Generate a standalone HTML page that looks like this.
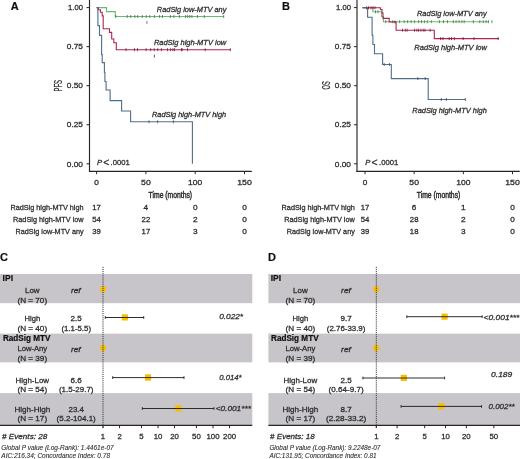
<!DOCTYPE html>
<html><head><meta charset="utf-8"><style>
html,body{margin:0;padding:0;background:#fff;width:520px;height:459px;overflow:hidden}
svg{display:block;will-change:transform}
text{font-family:"Liberation Sans",sans-serif}
</style></head><body>
<svg width="520" height="459" viewBox="0 0 520 459">
<text x="10.80" y="10.10" font-size="11" text-anchor="start" font-weight="bold" font-style="normal" fill="#111" stroke="#111" stroke-width="0.2">A</text>
<line x1="89.50" y1="0.00" x2="89.50" y2="171.90" stroke="#262626" stroke-width="1.15"/>
<line x1="88.95" y1="171.35" x2="251.80" y2="171.35" stroke="#262626" stroke-width="1.15"/>
<line x1="86.50" y1="7.60" x2="89.50" y2="7.60" stroke="#262626" stroke-width="1"/>
<text x="83.00" y="10.30" font-size="7.5" text-anchor="end" font-weight="normal" font-style="normal" fill="#2e2e2e" stroke="#2e2e2e" stroke-width="0.28" textLength="14.90" lengthAdjust="spacingAndGlyphs">1.00</text>
<line x1="86.50" y1="46.65" x2="89.50" y2="46.65" stroke="#262626" stroke-width="1"/>
<text x="83.00" y="49.35" font-size="7.5" text-anchor="end" font-weight="normal" font-style="normal" fill="#2e2e2e" stroke="#2e2e2e" stroke-width="0.28" textLength="16.20" lengthAdjust="spacingAndGlyphs">0.75</text>
<line x1="86.50" y1="85.70" x2="89.50" y2="85.70" stroke="#262626" stroke-width="1"/>
<text x="83.00" y="88.40" font-size="7.5" text-anchor="end" font-weight="normal" font-style="normal" fill="#2e2e2e" stroke="#2e2e2e" stroke-width="0.28" textLength="16.20" lengthAdjust="spacingAndGlyphs">0.50</text>
<line x1="86.50" y1="124.75" x2="89.50" y2="124.75" stroke="#262626" stroke-width="1"/>
<text x="83.00" y="127.45" font-size="7.5" text-anchor="end" font-weight="normal" font-style="normal" fill="#2e2e2e" stroke="#2e2e2e" stroke-width="0.28" textLength="16.20" lengthAdjust="spacingAndGlyphs">0.25</text>
<line x1="86.50" y1="163.80" x2="89.50" y2="163.80" stroke="#262626" stroke-width="1"/>
<text x="83.00" y="166.50" font-size="7.5" text-anchor="end" font-weight="normal" font-style="normal" fill="#2e2e2e" stroke="#2e2e2e" stroke-width="0.28" textLength="16.20" lengthAdjust="spacingAndGlyphs">0.00</text>
<text x="0" y="0" font-size="10.4" text-anchor="middle" fill="#2e2e2e" stroke="#2e2e2e" stroke-width="0.3" transform="translate(61.75,85.80) rotate(-90)" textLength="11.6" lengthAdjust="spacingAndGlyphs">PFS</text>
<line x1="96.60" y1="171.35" x2="96.60" y2="174.20" stroke="#262626" stroke-width="1"/>
<text x="96.60" y="184.70" font-size="7.5" text-anchor="middle" font-weight="normal" font-style="normal" fill="#2e2e2e" stroke="#2e2e2e" stroke-width="0.28" textLength="4.60" lengthAdjust="spacingAndGlyphs">0</text>
<line x1="145.90" y1="171.35" x2="145.90" y2="174.20" stroke="#262626" stroke-width="1"/>
<text x="145.90" y="184.70" font-size="7.5" text-anchor="middle" font-weight="normal" font-style="normal" fill="#2e2e2e" stroke="#2e2e2e" stroke-width="0.28" textLength="9.60" lengthAdjust="spacingAndGlyphs">50</text>
<line x1="195.20" y1="171.35" x2="195.20" y2="174.20" stroke="#262626" stroke-width="1"/>
<text x="195.20" y="184.70" font-size="7.5" text-anchor="middle" font-weight="normal" font-style="normal" fill="#2e2e2e" stroke="#2e2e2e" stroke-width="0.28" textLength="14.20" lengthAdjust="spacingAndGlyphs">100</text>
<line x1="244.50" y1="171.35" x2="244.50" y2="174.20" stroke="#262626" stroke-width="1"/>
<text x="244.50" y="184.70" font-size="7.5" text-anchor="middle" font-weight="normal" font-style="normal" fill="#2e2e2e" stroke="#2e2e2e" stroke-width="0.28" textLength="14.60" lengthAdjust="spacingAndGlyphs">150</text>
<text x="170.35" y="198.00" font-size="9" text-anchor="middle" font-weight="normal" font-style="normal" fill="#2a2a2a" stroke="#2a2a2a" stroke-width="0.45" textLength="43.50" lengthAdjust="spacingAndGlyphs">Time (months)</text>
<text x="96.90" y="164.70" font-size="7.7" text-anchor="start" font-weight="normal" font-style="italic" fill="#2e2e2e" stroke="#2e2e2e" stroke-width="0.28">P</text>
<text x="103.20" y="165.70" font-size="10.5" text-anchor="start" font-weight="normal" font-style="normal" fill="#2e2e2e" stroke="#2e2e2e" stroke-width="0.2">&lt;</text>
<text x="110.60" y="164.70" font-size="7.7" text-anchor="start" font-weight="normal" font-style="normal" fill="#2e2e2e" stroke="#2e2e2e" stroke-width="0.28" textLength="19.30" lengthAdjust="spacingAndGlyphs">.0001</text>
<path d="M96.70,7.60 L106.50,7.60 L106.50,11.60 L115.30,11.60 L115.30,16.50 L223.80,16.50" fill="none" stroke="#6cb872" stroke-width="1.1" stroke-linejoin="miter"/>
<line x1="115.80" y1="15.00" x2="115.80" y2="18.00" stroke="#3f7a46" stroke-width="0.8"/>
<line x1="127.30" y1="15.00" x2="127.30" y2="18.00" stroke="#3f7a46" stroke-width="0.8"/>
<line x1="130.80" y1="15.00" x2="130.80" y2="18.00" stroke="#3f7a46" stroke-width="0.8"/>
<line x1="134.80" y1="15.00" x2="134.80" y2="18.00" stroke="#3f7a46" stroke-width="0.8"/>
<line x1="137.70" y1="15.00" x2="137.70" y2="18.00" stroke="#3f7a46" stroke-width="0.8"/>
<line x1="142.30" y1="15.00" x2="142.30" y2="18.00" stroke="#3f7a46" stroke-width="0.8"/>
<line x1="146.30" y1="15.00" x2="146.30" y2="18.00" stroke="#3f7a46" stroke-width="0.8"/>
<line x1="149.80" y1="15.00" x2="149.80" y2="18.00" stroke="#3f7a46" stroke-width="0.8"/>
<line x1="154.40" y1="15.00" x2="154.40" y2="18.00" stroke="#3f7a46" stroke-width="0.8"/>
<line x1="159.60" y1="15.00" x2="159.60" y2="18.00" stroke="#3f7a46" stroke-width="0.8"/>
<line x1="162.50" y1="15.00" x2="162.50" y2="18.00" stroke="#3f7a46" stroke-width="0.8"/>
<line x1="170.40" y1="15.00" x2="170.40" y2="18.00" stroke="#3f7a46" stroke-width="0.8"/>
<line x1="173.90" y1="15.00" x2="173.90" y2="18.00" stroke="#3f7a46" stroke-width="0.8"/>
<line x1="179.40" y1="15.00" x2="179.40" y2="18.00" stroke="#3f7a46" stroke-width="0.8"/>
<line x1="185.60" y1="15.00" x2="185.60" y2="18.00" stroke="#3f7a46" stroke-width="0.8"/>
<line x1="187.70" y1="15.00" x2="187.70" y2="18.00" stroke="#3f7a46" stroke-width="0.8"/>
<line x1="189.80" y1="15.00" x2="189.80" y2="18.00" stroke="#3f7a46" stroke-width="0.8"/>
<line x1="191.90" y1="15.00" x2="191.90" y2="18.00" stroke="#3f7a46" stroke-width="0.8"/>
<line x1="197.40" y1="15.00" x2="197.40" y2="18.00" stroke="#3f7a46" stroke-width="0.8"/>
<line x1="204.30" y1="15.00" x2="204.30" y2="18.00" stroke="#3f7a46" stroke-width="0.8"/>
<line x1="223.70" y1="15.00" x2="223.70" y2="18.00" stroke="#3f7a46" stroke-width="0.8"/>
<line x1="146.90" y1="20.90" x2="146.90" y2="23.90" stroke="#3f7a46" stroke-width="0.8"/>
<path d="M96.70,7.60 L98.30,7.60 L98.30,9.80 L100.40,9.80 L100.40,12.20 L102.20,12.20 L102.20,15.90 L103.20,15.90 L103.20,28.70 L109.50,28.70 L109.50,32.40 L111.70,32.40 L111.70,39.00 L113.80,39.00 L113.80,42.70 L116.30,42.70 L116.30,49.70 L230.50,49.70" fill="none" stroke="#ad2550" stroke-width="1.1" stroke-linejoin="miter"/>
<line x1="126.00" y1="48.20" x2="126.00" y2="51.20" stroke="#7e1234" stroke-width="0.8"/>
<line x1="134.40" y1="48.20" x2="134.40" y2="51.20" stroke="#7e1234" stroke-width="0.8"/>
<line x1="137.50" y1="48.20" x2="137.50" y2="51.20" stroke="#7e1234" stroke-width="0.8"/>
<line x1="146.10" y1="48.20" x2="146.10" y2="51.20" stroke="#7e1234" stroke-width="0.8"/>
<line x1="150.70" y1="48.20" x2="150.70" y2="51.20" stroke="#7e1234" stroke-width="0.8"/>
<line x1="154.20" y1="48.20" x2="154.20" y2="51.20" stroke="#7e1234" stroke-width="0.8"/>
<line x1="157.70" y1="48.20" x2="157.70" y2="51.20" stroke="#7e1234" stroke-width="0.8"/>
<line x1="161.40" y1="48.20" x2="161.40" y2="51.20" stroke="#7e1234" stroke-width="0.8"/>
<line x1="167.50" y1="48.20" x2="167.50" y2="51.20" stroke="#7e1234" stroke-width="0.8"/>
<line x1="170.60" y1="48.20" x2="170.60" y2="51.20" stroke="#7e1234" stroke-width="0.8"/>
<line x1="172.90" y1="48.20" x2="172.90" y2="51.20" stroke="#7e1234" stroke-width="0.8"/>
<line x1="174.50" y1="48.20" x2="174.50" y2="51.20" stroke="#7e1234" stroke-width="0.8"/>
<line x1="181.40" y1="48.20" x2="181.40" y2="51.20" stroke="#7e1234" stroke-width="0.8"/>
<line x1="182.20" y1="48.20" x2="182.20" y2="51.20" stroke="#7e1234" stroke-width="0.8"/>
<line x1="187.50" y1="48.20" x2="187.50" y2="51.20" stroke="#7e1234" stroke-width="0.8"/>
<line x1="205.20" y1="48.20" x2="205.20" y2="51.20" stroke="#7e1234" stroke-width="0.8"/>
<line x1="230.30" y1="48.20" x2="230.30" y2="51.20" stroke="#7e1234" stroke-width="0.8"/>
<line x1="154.40" y1="54.60" x2="154.40" y2="57.60" stroke="#7e1234" stroke-width="0.8"/>
<path d="M96.70,7.60 L97.90,7.60 L97.90,25.60 L99.50,25.60 L99.50,35.40 L101.60,35.40 L101.60,54.60 L102.20,54.60 L102.20,62.60 L104.40,62.60 L104.40,72.40 L104.90,72.40 L104.90,81.50 L106.10,81.50 L106.10,90.00 L110.10,90.00 L110.10,100.60 L121.60,100.60 L121.60,111.00 L130.60,111.00 L130.60,121.80 L192.40,121.80 L192.40,163.80 L192.40,163.80" fill="none" stroke="#4f6d8c" stroke-width="1.1" stroke-linejoin="miter"/>
<line x1="149.00" y1="120.30" x2="149.00" y2="123.30" stroke="#34506c" stroke-width="0.8"/>
<line x1="157.60" y1="120.30" x2="157.60" y2="123.30" stroke="#34506c" stroke-width="0.8"/>
<line x1="173.40" y1="120.30" x2="173.40" y2="123.30" stroke="#34506c" stroke-width="0.8"/>
<text x="156.80" y="12.40" font-size="7.5" text-anchor="start" font-weight="normal" font-style="italic" fill="#2e2e2e" stroke="#2e2e2e" stroke-width="0.28" textLength="69.60" lengthAdjust="spacingAndGlyphs">RadSig low-MTV any</text>
<text x="153.90" y="45.00" font-size="7.5" text-anchor="start" font-weight="normal" font-style="italic" fill="#2e2e2e" stroke="#2e2e2e" stroke-width="0.28" textLength="72.30" lengthAdjust="spacingAndGlyphs">RadSig high-MTV low</text>
<text x="152.00" y="117.10" font-size="7.5" text-anchor="start" font-weight="normal" font-style="italic" fill="#2e2e2e" stroke="#2e2e2e" stroke-width="0.28" textLength="74.20" lengthAdjust="spacingAndGlyphs">RadSig high-MTV high</text>
<text x="83.60" y="210.44" font-size="7.6" text-anchor="end" font-weight="normal" font-style="normal" fill="#2e2e2e" stroke="#2e2e2e" stroke-width="0.28" textLength="73.20" lengthAdjust="spacingAndGlyphs">RadSig high-MTV high</text>
<text x="96.60" y="210.44" font-size="7.6" text-anchor="middle" font-weight="normal" font-style="normal" fill="#2e2e2e" stroke="#2e2e2e" stroke-width="0.28" textLength="8.60" lengthAdjust="spacingAndGlyphs">17</text>
<text x="145.90" y="210.44" font-size="7.6" text-anchor="middle" font-weight="normal" font-style="normal" fill="#2e2e2e" stroke="#2e2e2e" stroke-width="0.28" textLength="4.60" lengthAdjust="spacingAndGlyphs">4</text>
<text x="195.20" y="210.44" font-size="7.6" text-anchor="middle" font-weight="normal" font-style="normal" fill="#2e2e2e" stroke="#2e2e2e" stroke-width="0.28" textLength="4.60" lengthAdjust="spacingAndGlyphs">0</text>
<text x="244.50" y="210.44" font-size="7.6" text-anchor="middle" font-weight="normal" font-style="normal" fill="#2e2e2e" stroke="#2e2e2e" stroke-width="0.28" textLength="4.60" lengthAdjust="spacingAndGlyphs">0</text>
<text x="83.60" y="222.24" font-size="7.6" text-anchor="end" font-weight="normal" font-style="normal" fill="#2e2e2e" stroke="#2e2e2e" stroke-width="0.28" textLength="70.60" lengthAdjust="spacingAndGlyphs">RadSig high-MTV low</text>
<text x="96.60" y="222.24" font-size="7.6" text-anchor="middle" font-weight="normal" font-style="normal" fill="#2e2e2e" stroke="#2e2e2e" stroke-width="0.28" textLength="8.60" lengthAdjust="spacingAndGlyphs">54</text>
<text x="145.90" y="222.24" font-size="7.6" text-anchor="middle" font-weight="normal" font-style="normal" fill="#2e2e2e" stroke="#2e2e2e" stroke-width="0.28" textLength="8.60" lengthAdjust="spacingAndGlyphs">22</text>
<text x="195.20" y="222.24" font-size="7.6" text-anchor="middle" font-weight="normal" font-style="normal" fill="#2e2e2e" stroke="#2e2e2e" stroke-width="0.28" textLength="4.60" lengthAdjust="spacingAndGlyphs">2</text>
<text x="244.50" y="222.24" font-size="7.6" text-anchor="middle" font-weight="normal" font-style="normal" fill="#2e2e2e" stroke="#2e2e2e" stroke-width="0.28" textLength="4.60" lengthAdjust="spacingAndGlyphs">0</text>
<text x="83.60" y="233.94" font-size="7.6" text-anchor="end" font-weight="normal" font-style="normal" fill="#2e2e2e" stroke="#2e2e2e" stroke-width="0.28" textLength="68.00" lengthAdjust="spacingAndGlyphs">RadSig low-MTV any</text>
<text x="96.60" y="233.94" font-size="7.6" text-anchor="middle" font-weight="normal" font-style="normal" fill="#2e2e2e" stroke="#2e2e2e" stroke-width="0.28" textLength="8.60" lengthAdjust="spacingAndGlyphs">39</text>
<text x="145.90" y="233.94" font-size="7.6" text-anchor="middle" font-weight="normal" font-style="normal" fill="#2e2e2e" stroke="#2e2e2e" stroke-width="0.28" textLength="8.60" lengthAdjust="spacingAndGlyphs">17</text>
<text x="195.20" y="233.94" font-size="7.6" text-anchor="middle" font-weight="normal" font-style="normal" fill="#2e2e2e" stroke="#2e2e2e" stroke-width="0.28" textLength="4.60" lengthAdjust="spacingAndGlyphs">3</text>
<text x="244.50" y="233.94" font-size="7.6" text-anchor="middle" font-weight="normal" font-style="normal" fill="#2e2e2e" stroke="#2e2e2e" stroke-width="0.28" textLength="4.60" lengthAdjust="spacingAndGlyphs">0</text>
<text x="281.90" y="10.10" font-size="11" text-anchor="start" font-weight="bold" font-style="normal" fill="#111" stroke="#111" stroke-width="0.2">B</text>
<line x1="357.00" y1="0.00" x2="357.00" y2="171.90" stroke="#262626" stroke-width="1.15"/>
<line x1="356.45" y1="171.35" x2="519.80" y2="171.35" stroke="#262626" stroke-width="1.15"/>
<line x1="354.00" y1="7.60" x2="357.00" y2="7.60" stroke="#262626" stroke-width="1"/>
<text x="351.00" y="10.30" font-size="7.5" text-anchor="end" font-weight="normal" font-style="normal" fill="#2e2e2e" stroke="#2e2e2e" stroke-width="0.28" textLength="14.90" lengthAdjust="spacingAndGlyphs">1.00</text>
<line x1="354.00" y1="46.65" x2="357.00" y2="46.65" stroke="#262626" stroke-width="1"/>
<text x="351.00" y="49.35" font-size="7.5" text-anchor="end" font-weight="normal" font-style="normal" fill="#2e2e2e" stroke="#2e2e2e" stroke-width="0.28" textLength="16.20" lengthAdjust="spacingAndGlyphs">0.75</text>
<line x1="354.00" y1="85.70" x2="357.00" y2="85.70" stroke="#262626" stroke-width="1"/>
<text x="351.00" y="88.40" font-size="7.5" text-anchor="end" font-weight="normal" font-style="normal" fill="#2e2e2e" stroke="#2e2e2e" stroke-width="0.28" textLength="16.20" lengthAdjust="spacingAndGlyphs">0.50</text>
<line x1="354.00" y1="124.75" x2="357.00" y2="124.75" stroke="#262626" stroke-width="1"/>
<text x="351.00" y="127.45" font-size="7.5" text-anchor="end" font-weight="normal" font-style="normal" fill="#2e2e2e" stroke="#2e2e2e" stroke-width="0.28" textLength="16.20" lengthAdjust="spacingAndGlyphs">0.25</text>
<line x1="354.00" y1="163.80" x2="357.00" y2="163.80" stroke="#262626" stroke-width="1"/>
<text x="351.00" y="166.50" font-size="7.5" text-anchor="end" font-weight="normal" font-style="normal" fill="#2e2e2e" stroke="#2e2e2e" stroke-width="0.28" textLength="16.20" lengthAdjust="spacingAndGlyphs">0.00</text>
<text x="0" y="0" font-size="10.4" text-anchor="middle" fill="#2e2e2e" stroke="#2e2e2e" stroke-width="0.3" transform="translate(329.65,85.40) rotate(-90)" textLength="8.1" lengthAdjust="spacingAndGlyphs">OS</text>
<line x1="365.00" y1="171.35" x2="365.00" y2="174.20" stroke="#262626" stroke-width="1"/>
<text x="365.00" y="184.70" font-size="7.5" text-anchor="middle" font-weight="normal" font-style="normal" fill="#2e2e2e" stroke="#2e2e2e" stroke-width="0.28" textLength="4.60" lengthAdjust="spacingAndGlyphs">0</text>
<line x1="414.17" y1="171.35" x2="414.17" y2="174.20" stroke="#262626" stroke-width="1"/>
<text x="414.17" y="184.70" font-size="7.5" text-anchor="middle" font-weight="normal" font-style="normal" fill="#2e2e2e" stroke="#2e2e2e" stroke-width="0.28" textLength="9.60" lengthAdjust="spacingAndGlyphs">50</text>
<line x1="463.33" y1="171.35" x2="463.33" y2="174.20" stroke="#262626" stroke-width="1"/>
<text x="463.33" y="184.70" font-size="7.5" text-anchor="middle" font-weight="normal" font-style="normal" fill="#2e2e2e" stroke="#2e2e2e" stroke-width="0.28" textLength="14.20" lengthAdjust="spacingAndGlyphs">100</text>
<line x1="512.50" y1="171.35" x2="512.50" y2="174.20" stroke="#262626" stroke-width="1"/>
<text x="512.50" y="184.70" font-size="7.5" text-anchor="middle" font-weight="normal" font-style="normal" fill="#2e2e2e" stroke="#2e2e2e" stroke-width="0.28" textLength="14.60" lengthAdjust="spacingAndGlyphs">150</text>
<text x="438.55" y="198.00" font-size="9" text-anchor="middle" font-weight="normal" font-style="normal" fill="#2a2a2a" stroke="#2a2a2a" stroke-width="0.45" textLength="43.50" lengthAdjust="spacingAndGlyphs">Time (months)</text>
<text x="365.30" y="164.70" font-size="7.7" text-anchor="start" font-weight="normal" font-style="italic" fill="#2e2e2e" stroke="#2e2e2e" stroke-width="0.28">P</text>
<text x="371.60" y="165.70" font-size="10.5" text-anchor="start" font-weight="normal" font-style="normal" fill="#2e2e2e" stroke="#2e2e2e" stroke-width="0.2">&lt;</text>
<text x="379.00" y="164.70" font-size="7.7" text-anchor="start" font-weight="normal" font-style="normal" fill="#2e2e2e" stroke="#2e2e2e" stroke-width="0.28" textLength="19.30" lengthAdjust="spacingAndGlyphs">.0001</text>
<path d="M362.50,7.80 L372.90,7.80 L372.90,11.80 L381.50,11.80 L381.50,16.50 L383.40,16.50 L383.40,21.70 L489.00,21.70" fill="none" stroke="#6cb872" stroke-width="1.1" stroke-linejoin="miter"/>
<line x1="385.70" y1="20.20" x2="385.70" y2="23.20" stroke="#3f7a46" stroke-width="0.8"/>
<line x1="392.70" y1="20.20" x2="392.70" y2="23.20" stroke="#3f7a46" stroke-width="0.8"/>
<line x1="399.60" y1="20.20" x2="399.60" y2="23.20" stroke="#3f7a46" stroke-width="0.8"/>
<line x1="404.20" y1="20.20" x2="404.20" y2="23.20" stroke="#3f7a46" stroke-width="0.8"/>
<line x1="407.60" y1="20.20" x2="407.60" y2="23.20" stroke="#3f7a46" stroke-width="0.8"/>
<line x1="411.10" y1="20.20" x2="411.10" y2="23.20" stroke="#3f7a46" stroke-width="0.8"/>
<line x1="414.60" y1="20.20" x2="414.60" y2="23.20" stroke="#3f7a46" stroke-width="0.8"/>
<line x1="418.60" y1="20.20" x2="418.60" y2="23.20" stroke="#3f7a46" stroke-width="0.8"/>
<line x1="421.50" y1="20.20" x2="421.50" y2="23.20" stroke="#3f7a46" stroke-width="0.8"/>
<line x1="424.40" y1="20.20" x2="424.40" y2="23.20" stroke="#3f7a46" stroke-width="0.8"/>
<line x1="427.30" y1="20.20" x2="427.30" y2="23.20" stroke="#3f7a46" stroke-width="0.8"/>
<line x1="431.30" y1="20.20" x2="431.30" y2="23.20" stroke="#3f7a46" stroke-width="0.8"/>
<line x1="439.40" y1="20.20" x2="439.40" y2="23.20" stroke="#3f7a46" stroke-width="0.8"/>
<line x1="443.50" y1="20.20" x2="443.50" y2="23.20" stroke="#3f7a46" stroke-width="0.8"/>
<line x1="447.50" y1="20.20" x2="447.50" y2="23.20" stroke="#3f7a46" stroke-width="0.8"/>
<line x1="453.30" y1="20.20" x2="453.30" y2="23.20" stroke="#3f7a46" stroke-width="0.8"/>
<line x1="456.10" y1="20.20" x2="456.10" y2="23.20" stroke="#3f7a46" stroke-width="0.8"/>
<line x1="459.00" y1="20.20" x2="459.00" y2="23.20" stroke="#3f7a46" stroke-width="0.8"/>
<line x1="461.90" y1="20.20" x2="461.90" y2="23.20" stroke="#3f7a46" stroke-width="0.8"/>
<line x1="464.20" y1="20.20" x2="464.20" y2="23.20" stroke="#3f7a46" stroke-width="0.8"/>
<line x1="473.40" y1="20.20" x2="473.40" y2="23.20" stroke="#3f7a46" stroke-width="0.8"/>
<line x1="479.80" y1="20.20" x2="479.80" y2="23.20" stroke="#3f7a46" stroke-width="0.8"/>
<line x1="483.30" y1="20.20" x2="483.30" y2="23.20" stroke="#3f7a46" stroke-width="0.8"/>
<line x1="486.10" y1="20.20" x2="486.10" y2="23.20" stroke="#3f7a46" stroke-width="0.8"/>
<line x1="488.40" y1="20.20" x2="488.40" y2="23.20" stroke="#3f7a46" stroke-width="0.8"/>
<line x1="491.90" y1="20.20" x2="491.90" y2="23.20" stroke="#3f7a46" stroke-width="0.8"/>
<line x1="378.00" y1="10.30" x2="378.00" y2="13.30" stroke="#3f7a46" stroke-width="0.8"/>
<line x1="375.50" y1="10.30" x2="375.50" y2="13.30" stroke="#3f7a46" stroke-width="0.8"/>
<path d="M362.50,7.80 L380.40,7.80 L380.40,9.50 L382.00,9.50 L382.00,13.00 L383.00,13.00 L383.00,18.40 L389.20,18.40 L389.20,22.00 L396.10,22.00 L396.10,30.20 L434.30,30.20 L434.30,38.60 L498.80,38.60" fill="none" stroke="#ad2550" stroke-width="1.1" stroke-linejoin="miter"/>
<line x1="402.50" y1="28.70" x2="402.50" y2="31.70" stroke="#7e1234" stroke-width="0.8"/>
<line x1="405.30" y1="28.70" x2="405.30" y2="31.70" stroke="#7e1234" stroke-width="0.8"/>
<line x1="407.10" y1="28.70" x2="407.10" y2="31.70" stroke="#7e1234" stroke-width="0.8"/>
<line x1="414.60" y1="28.70" x2="414.60" y2="31.70" stroke="#7e1234" stroke-width="0.8"/>
<line x1="416.90" y1="28.70" x2="416.90" y2="31.70" stroke="#7e1234" stroke-width="0.8"/>
<line x1="418.60" y1="28.70" x2="418.60" y2="31.70" stroke="#7e1234" stroke-width="0.8"/>
<line x1="420.90" y1="28.70" x2="420.90" y2="31.70" stroke="#7e1234" stroke-width="0.8"/>
<line x1="423.20" y1="28.70" x2="423.20" y2="31.70" stroke="#7e1234" stroke-width="0.8"/>
<line x1="424.90" y1="28.70" x2="424.90" y2="31.70" stroke="#7e1234" stroke-width="0.8"/>
<line x1="430.10" y1="28.70" x2="430.10" y2="31.70" stroke="#7e1234" stroke-width="0.8"/>
<line x1="440.60" y1="37.10" x2="440.60" y2="40.10" stroke="#7e1234" stroke-width="0.8"/>
<line x1="442.90" y1="37.10" x2="442.90" y2="40.10" stroke="#7e1234" stroke-width="0.8"/>
<line x1="449.20" y1="37.10" x2="449.20" y2="40.10" stroke="#7e1234" stroke-width="0.8"/>
<line x1="451.50" y1="37.10" x2="451.50" y2="40.10" stroke="#7e1234" stroke-width="0.8"/>
<line x1="454.40" y1="37.10" x2="454.40" y2="40.10" stroke="#7e1234" stroke-width="0.8"/>
<line x1="463.10" y1="37.10" x2="463.10" y2="40.10" stroke="#7e1234" stroke-width="0.8"/>
<line x1="474.00" y1="37.10" x2="474.00" y2="40.10" stroke="#7e1234" stroke-width="0.8"/>
<line x1="498.20" y1="37.10" x2="498.20" y2="40.10" stroke="#7e1234" stroke-width="0.8"/>
<line x1="366.50" y1="6.30" x2="366.50" y2="9.30" stroke="#7e1234" stroke-width="0.8"/>
<line x1="368.50" y1="6.30" x2="368.50" y2="9.30" stroke="#7e1234" stroke-width="0.8"/>
<line x1="371.00" y1="6.30" x2="371.00" y2="9.30" stroke="#7e1234" stroke-width="0.8"/>
<line x1="373.00" y1="6.30" x2="373.00" y2="9.30" stroke="#7e1234" stroke-width="0.8"/>
<line x1="375.00" y1="6.30" x2="375.00" y2="9.30" stroke="#7e1234" stroke-width="0.8"/>
<line x1="395.00" y1="20.50" x2="395.00" y2="23.50" stroke="#7e1234" stroke-width="0.8"/>
<path d="M362.50,7.80 L367.60,7.80 L367.60,17.30 L372.10,17.30 L372.10,35.30 L372.90,35.30 L372.90,44.50 L374.50,44.50 L374.50,53.70 L382.60,53.70 L382.60,64.50 L391.30,64.50 L391.30,78.60 L428.20,78.60 L428.20,99.50 L465.50,99.50" fill="none" stroke="#4f6d8c" stroke-width="1.1" stroke-linejoin="miter"/>
<line x1="384.20" y1="63.00" x2="384.20" y2="66.00" stroke="#34506c" stroke-width="0.8"/>
<line x1="389.60" y1="63.00" x2="389.60" y2="66.00" stroke="#34506c" stroke-width="0.8"/>
<line x1="417.80" y1="77.10" x2="417.80" y2="80.10" stroke="#34506c" stroke-width="0.8"/>
<line x1="425.20" y1="77.10" x2="425.20" y2="80.10" stroke="#34506c" stroke-width="0.8"/>
<line x1="441.30" y1="98.00" x2="441.30" y2="101.00" stroke="#34506c" stroke-width="0.8"/>
<line x1="446.30" y1="98.00" x2="446.30" y2="101.00" stroke="#34506c" stroke-width="0.8"/>
<line x1="465.30" y1="98.00" x2="465.30" y2="101.00" stroke="#34506c" stroke-width="0.8"/>
<text x="417.00" y="16.40" font-size="7.5" text-anchor="start" font-weight="normal" font-style="italic" fill="#2e2e2e" stroke="#2e2e2e" stroke-width="0.28" textLength="69.60" lengthAdjust="spacingAndGlyphs">RadSig low-MTV any</text>
<text x="414.30" y="50.20" font-size="7.5" text-anchor="start" font-weight="normal" font-style="italic" fill="#2e2e2e" stroke="#2e2e2e" stroke-width="0.28" textLength="72.60" lengthAdjust="spacingAndGlyphs">RadSig high-MTV low</text>
<text x="412.30" y="112.70" font-size="7.5" text-anchor="start" font-weight="normal" font-style="italic" fill="#2e2e2e" stroke="#2e2e2e" stroke-width="0.28" textLength="74.50" lengthAdjust="spacingAndGlyphs">RadSig high-MTV high</text>
<text x="354.80" y="210.44" font-size="7.6" text-anchor="end" font-weight="normal" font-style="normal" fill="#2e2e2e" stroke="#2e2e2e" stroke-width="0.28" textLength="73.20" lengthAdjust="spacingAndGlyphs">RadSig high-MTV high</text>
<text x="365.00" y="210.44" font-size="7.6" text-anchor="middle" font-weight="normal" font-style="normal" fill="#2e2e2e" stroke="#2e2e2e" stroke-width="0.28" textLength="8.60" lengthAdjust="spacingAndGlyphs">17</text>
<text x="414.17" y="210.44" font-size="7.6" text-anchor="middle" font-weight="normal" font-style="normal" fill="#2e2e2e" stroke="#2e2e2e" stroke-width="0.28" textLength="4.60" lengthAdjust="spacingAndGlyphs">6</text>
<text x="463.33" y="210.44" font-size="7.6" text-anchor="middle" font-weight="normal" font-style="normal" fill="#2e2e2e" stroke="#2e2e2e" stroke-width="0.28" textLength="4.60" lengthAdjust="spacingAndGlyphs">1</text>
<text x="512.50" y="210.44" font-size="7.6" text-anchor="middle" font-weight="normal" font-style="normal" fill="#2e2e2e" stroke="#2e2e2e" stroke-width="0.28" textLength="4.60" lengthAdjust="spacingAndGlyphs">0</text>
<text x="354.80" y="222.24" font-size="7.6" text-anchor="end" font-weight="normal" font-style="normal" fill="#2e2e2e" stroke="#2e2e2e" stroke-width="0.28" textLength="70.60" lengthAdjust="spacingAndGlyphs">RadSig high-MTV low</text>
<text x="365.00" y="222.24" font-size="7.6" text-anchor="middle" font-weight="normal" font-style="normal" fill="#2e2e2e" stroke="#2e2e2e" stroke-width="0.28" textLength="8.60" lengthAdjust="spacingAndGlyphs">54</text>
<text x="414.17" y="222.24" font-size="7.6" text-anchor="middle" font-weight="normal" font-style="normal" fill="#2e2e2e" stroke="#2e2e2e" stroke-width="0.28" textLength="8.60" lengthAdjust="spacingAndGlyphs">28</text>
<text x="463.33" y="222.24" font-size="7.6" text-anchor="middle" font-weight="normal" font-style="normal" fill="#2e2e2e" stroke="#2e2e2e" stroke-width="0.28" textLength="4.60" lengthAdjust="spacingAndGlyphs">2</text>
<text x="512.50" y="222.24" font-size="7.6" text-anchor="middle" font-weight="normal" font-style="normal" fill="#2e2e2e" stroke="#2e2e2e" stroke-width="0.28" textLength="4.60" lengthAdjust="spacingAndGlyphs">0</text>
<text x="354.80" y="233.94" font-size="7.6" text-anchor="end" font-weight="normal" font-style="normal" fill="#2e2e2e" stroke="#2e2e2e" stroke-width="0.28" textLength="68.00" lengthAdjust="spacingAndGlyphs">RadSig low-MTV any</text>
<text x="365.00" y="233.94" font-size="7.6" text-anchor="middle" font-weight="normal" font-style="normal" fill="#2e2e2e" stroke="#2e2e2e" stroke-width="0.28" textLength="8.60" lengthAdjust="spacingAndGlyphs">39</text>
<text x="414.17" y="233.94" font-size="7.6" text-anchor="middle" font-weight="normal" font-style="normal" fill="#2e2e2e" stroke="#2e2e2e" stroke-width="0.28" textLength="8.60" lengthAdjust="spacingAndGlyphs">18</text>
<text x="463.33" y="233.94" font-size="7.6" text-anchor="middle" font-weight="normal" font-style="normal" fill="#2e2e2e" stroke="#2e2e2e" stroke-width="0.28" textLength="4.60" lengthAdjust="spacingAndGlyphs">3</text>
<text x="512.50" y="233.94" font-size="7.6" text-anchor="middle" font-weight="normal" font-style="normal" fill="#2e2e2e" stroke="#2e2e2e" stroke-width="0.28" textLength="4.60" lengthAdjust="spacingAndGlyphs">0</text>
<text x="0.00" y="260.80" font-size="11" text-anchor="start" font-weight="bold" font-style="normal" fill="#111" stroke="#111" stroke-width="0.2">C</text>
<rect x="0.00" y="274.00" width="252.30" height="29.20" fill="#c7c5ca"/>
<rect x="0.00" y="333.60" width="252.30" height="28.80" fill="#c7c5ca"/>
<rect x="0.00" y="393.10" width="252.30" height="32.10" fill="#c7c5ca"/>
<line x1="0.00" y1="425.40" x2="252.30" y2="425.40" stroke="#262626" stroke-width="1.15"/>
<line x1="103.00" y1="425.40" x2="103.00" y2="428.20" stroke="#262626" stroke-width="1"/>
<text x="103.00" y="438.91" font-size="7.8" text-anchor="middle" font-weight="normal" font-style="normal" fill="#2e2e2e" stroke="#2e2e2e" stroke-width="0.28">1</text>
<line x1="119.56" y1="425.40" x2="119.56" y2="428.20" stroke="#262626" stroke-width="1"/>
<text x="119.56" y="438.91" font-size="7.8" text-anchor="middle" font-weight="normal" font-style="normal" fill="#2e2e2e" stroke="#2e2e2e" stroke-width="0.28">2</text>
<line x1="141.44" y1="425.40" x2="141.44" y2="428.20" stroke="#262626" stroke-width="1"/>
<text x="141.44" y="438.91" font-size="7.8" text-anchor="middle" font-weight="normal" font-style="normal" fill="#2e2e2e" stroke="#2e2e2e" stroke-width="0.28">5</text>
<line x1="158.00" y1="425.40" x2="158.00" y2="428.20" stroke="#262626" stroke-width="1"/>
<text x="158.00" y="438.91" font-size="7.8" text-anchor="middle" font-weight="normal" font-style="normal" fill="#2e2e2e" stroke="#2e2e2e" stroke-width="0.28">10</text>
<line x1="174.56" y1="425.40" x2="174.56" y2="428.20" stroke="#262626" stroke-width="1"/>
<text x="174.56" y="438.91" font-size="7.8" text-anchor="middle" font-weight="normal" font-style="normal" fill="#2e2e2e" stroke="#2e2e2e" stroke-width="0.28">20</text>
<line x1="196.44" y1="425.40" x2="196.44" y2="428.20" stroke="#262626" stroke-width="1"/>
<text x="196.44" y="438.91" font-size="7.8" text-anchor="middle" font-weight="normal" font-style="normal" fill="#2e2e2e" stroke="#2e2e2e" stroke-width="0.28">50</text>
<line x1="213.00" y1="425.40" x2="213.00" y2="428.20" stroke="#262626" stroke-width="1"/>
<text x="213.00" y="438.91" font-size="7.8" text-anchor="middle" font-weight="normal" font-style="normal" fill="#2e2e2e" stroke="#2e2e2e" stroke-width="0.28">100</text>
<line x1="229.56" y1="425.40" x2="229.56" y2="428.20" stroke="#262626" stroke-width="1"/>
<text x="229.56" y="438.91" font-size="7.8" text-anchor="middle" font-weight="normal" font-style="normal" fill="#2e2e2e" stroke="#2e2e2e" stroke-width="0.28">200</text>
<text x="2.60" y="281.15" font-size="8.2" text-anchor="start" font-weight="bold" font-style="normal" fill="#111" stroke="#111" stroke-width="0.2" textLength="10.40" lengthAdjust="spacingAndGlyphs">IPI</text>
<text x="2.90" y="341.25" font-size="8.2" text-anchor="start" font-weight="bold" font-style="normal" fill="#111" stroke="#111" stroke-width="0.2" textLength="47.60" lengthAdjust="spacingAndGlyphs">RadSig MTV</text>
<text x="32.30" y="292.59" font-size="7.6" text-anchor="middle" font-weight="normal" font-style="normal" fill="#2e2e2e" stroke="#2e2e2e" stroke-width="0.28" textLength="14.60" lengthAdjust="spacingAndGlyphs">Low</text>
<text x="32.30" y="302.64" font-size="7.6" text-anchor="middle" font-weight="normal" font-style="normal" fill="#2e2e2e" stroke="#2e2e2e" stroke-width="0.28" textLength="29.60" lengthAdjust="spacingAndGlyphs">(N = 70)</text>
<text x="75.80" y="292.79" font-size="7.6" text-anchor="middle" font-weight="normal" font-style="italic" fill="#2e2e2e" stroke="#2e2e2e" stroke-width="0.28" textLength="9.80" lengthAdjust="spacingAndGlyphs">ref</text>
<rect x="100.00" y="286.25" width="6" height="6" rx="2.4" fill="#f5c000"/>
<text x="32.30" y="321.14" font-size="7.6" text-anchor="middle" font-weight="normal" font-style="normal" fill="#2e2e2e" stroke="#2e2e2e" stroke-width="0.28" textLength="15.60" lengthAdjust="spacingAndGlyphs">High</text>
<text x="32.30" y="330.74" font-size="7.6" text-anchor="middle" font-weight="normal" font-style="normal" fill="#2e2e2e" stroke="#2e2e2e" stroke-width="0.28" textLength="29.60" lengthAdjust="spacingAndGlyphs">(N = 40)</text>
<text x="76.20" y="321.14" font-size="7.6" text-anchor="middle" font-weight="normal" font-style="normal" fill="#2e2e2e" stroke="#2e2e2e" stroke-width="0.28" textLength="11.20" lengthAdjust="spacingAndGlyphs">2.5</text>
<text x="76.20" y="330.74" font-size="7.6" text-anchor="middle" font-weight="normal" font-style="normal" fill="#2e2e2e" stroke="#2e2e2e" stroke-width="0.28" textLength="29.60" lengthAdjust="spacingAndGlyphs">(1.1-5.5)</text>
<rect x="121.79" y="314.20" width="6.2" height="6.4" rx="0.6" fill="#f5c000"/>
<line x1="105.28" y1="317.50" x2="143.72" y2="317.50" stroke="#222" stroke-width="0.95"/>
<line x1="105.28" y1="316.10" x2="105.28" y2="318.90" stroke="#222" stroke-width="0.9"/>
<line x1="143.72" y1="316.10" x2="143.72" y2="318.90" stroke="#222" stroke-width="0.9"/>
<text x="243.10" y="318.62" font-size="8.1" text-anchor="end" font-weight="normal" font-style="italic" fill="#2e2e2e" stroke="#2e2e2e" stroke-width="0.28" textLength="23.90" lengthAdjust="spacingAndGlyphs">0.022*</text>
<text x="32.30" y="351.44" font-size="7.6" text-anchor="middle" font-weight="normal" font-style="normal" fill="#2e2e2e" stroke="#2e2e2e" stroke-width="0.28" textLength="29.80" lengthAdjust="spacingAndGlyphs">Low-Any</text>
<text x="32.30" y="361.04" font-size="7.6" text-anchor="middle" font-weight="normal" font-style="normal" fill="#2e2e2e" stroke="#2e2e2e" stroke-width="0.28" textLength="29.60" lengthAdjust="spacingAndGlyphs">(N = 39)</text>
<text x="75.80" y="351.64" font-size="7.6" text-anchor="middle" font-weight="normal" font-style="italic" fill="#2e2e2e" stroke="#2e2e2e" stroke-width="0.28" textLength="9.80" lengthAdjust="spacingAndGlyphs">ref</text>
<rect x="100.00" y="345.10" width="6" height="6" rx="2.4" fill="#f5c000"/>
<text x="32.30" y="382.59" font-size="7.6" text-anchor="middle" font-weight="normal" font-style="normal" fill="#2e2e2e" stroke="#2e2e2e" stroke-width="0.28" textLength="33.60" lengthAdjust="spacingAndGlyphs">High-Low</text>
<text x="32.30" y="392.14" font-size="7.6" text-anchor="middle" font-weight="normal" font-style="normal" fill="#2e2e2e" stroke="#2e2e2e" stroke-width="0.28" textLength="29.60" lengthAdjust="spacingAndGlyphs">(N = 54)</text>
<text x="76.20" y="382.59" font-size="7.6" text-anchor="middle" font-weight="normal" font-style="normal" fill="#2e2e2e" stroke="#2e2e2e" stroke-width="0.28" textLength="11.20" lengthAdjust="spacingAndGlyphs">6.6</text>
<text x="76.20" y="392.14" font-size="7.6" text-anchor="middle" font-weight="normal" font-style="normal" fill="#2e2e2e" stroke="#2e2e2e" stroke-width="0.28" textLength="34.60" lengthAdjust="spacingAndGlyphs">(1.5-29.7)</text>
<rect x="144.97" y="374.30" width="6.2" height="6.4" rx="0.6" fill="#f5c000"/>
<line x1="112.69" y1="377.60" x2="184.00" y2="377.60" stroke="#222" stroke-width="0.95"/>
<line x1="112.69" y1="376.20" x2="112.69" y2="379.00" stroke="#222" stroke-width="0.9"/>
<line x1="184.00" y1="376.20" x2="184.00" y2="379.00" stroke="#222" stroke-width="0.9"/>
<text x="241.60" y="379.52" font-size="8.1" text-anchor="end" font-weight="normal" font-style="italic" fill="#2e2e2e" stroke="#2e2e2e" stroke-width="0.28" textLength="22.40" lengthAdjust="spacingAndGlyphs">0.014*</text>
<text x="32.30" y="411.84" font-size="7.6" text-anchor="middle" font-weight="normal" font-style="normal" fill="#2e2e2e" stroke="#2e2e2e" stroke-width="0.28" textLength="35.80" lengthAdjust="spacingAndGlyphs">High-High</text>
<text x="32.30" y="421.34" font-size="7.6" text-anchor="middle" font-weight="normal" font-style="normal" fill="#2e2e2e" stroke="#2e2e2e" stroke-width="0.28" textLength="29.60" lengthAdjust="spacingAndGlyphs">(N = 17)</text>
<text x="76.20" y="411.84" font-size="7.6" text-anchor="middle" font-weight="normal" font-style="normal" fill="#2e2e2e" stroke="#2e2e2e" stroke-width="0.28" textLength="15.40" lengthAdjust="spacingAndGlyphs">23.4</text>
<text x="76.20" y="421.34" font-size="7.6" text-anchor="middle" font-weight="normal" font-style="normal" fill="#2e2e2e" stroke="#2e2e2e" stroke-width="0.28" textLength="39.20" lengthAdjust="spacingAndGlyphs">(5.2-104.1)</text>
<rect x="175.21" y="405.20" width="6.2" height="6.4" rx="0.6" fill="#f5c000"/>
<line x1="142.38" y1="408.50" x2="213.96" y2="408.50" stroke="#222" stroke-width="0.95"/>
<line x1="142.38" y1="407.10" x2="142.38" y2="409.90" stroke="#222" stroke-width="0.9"/>
<line x1="213.96" y1="407.10" x2="213.96" y2="409.90" stroke="#222" stroke-width="0.9"/>
<text x="250.90" y="411.12" font-size="8.1" text-anchor="end" font-weight="normal" font-style="italic" fill="#2e2e2e" stroke="#2e2e2e" stroke-width="0.28" textLength="35.20" lengthAdjust="spacingAndGlyphs">&lt;0.001***</text>
<line x1="103.00" y1="266.80" x2="103.00" y2="428.50" stroke="#333" stroke-width="1.0" stroke-dasharray="1.1,1"/>
<text x="2.00" y="439.12" font-size="8.1" text-anchor="start" font-weight="normal" font-style="italic" fill="#2e2e2e" stroke="#2e2e2e" stroke-width="0.28" textLength="45.30" lengthAdjust="spacingAndGlyphs"># Events: 28</text>
<text x="1.30" y="449.67" font-size="6.3" text-anchor="start" font-weight="normal" font-style="italic" fill="#2e2e2e" stroke="#2e2e2e" stroke-width="0.1" textLength="112.30" lengthAdjust="spacingAndGlyphs">Global P value (Log-Rank): 1.4461e-07</text>
<text x="1.30" y="457.57" font-size="6.3" text-anchor="start" font-weight="normal" font-style="italic" fill="#2e2e2e" stroke="#2e2e2e" stroke-width="0.1" textLength="108.70" lengthAdjust="spacingAndGlyphs">AIC:216.34; Concordance Index: 0.78</text>
<text x="268.10" y="260.80" font-size="11" text-anchor="start" font-weight="bold" font-style="normal" fill="#111" stroke="#111" stroke-width="0.2">D</text>
<rect x="268.40" y="274.00" width="251.60" height="29.20" fill="#c7c5ca"/>
<rect x="268.40" y="333.60" width="251.60" height="28.80" fill="#c7c5ca"/>
<rect x="268.40" y="393.10" width="251.60" height="32.10" fill="#c7c5ca"/>
<line x1="268.40" y1="425.40" x2="520.00" y2="425.40" stroke="#262626" stroke-width="1.15"/>
<line x1="376.30" y1="425.40" x2="376.30" y2="428.20" stroke="#262626" stroke-width="1"/>
<text x="376.30" y="438.91" font-size="7.8" text-anchor="middle" font-weight="normal" font-style="normal" fill="#2e2e2e" stroke="#2e2e2e" stroke-width="0.28">1</text>
<line x1="397.13" y1="425.40" x2="397.13" y2="428.20" stroke="#262626" stroke-width="1"/>
<text x="397.13" y="438.91" font-size="7.8" text-anchor="middle" font-weight="normal" font-style="normal" fill="#2e2e2e" stroke="#2e2e2e" stroke-width="0.28">2</text>
<line x1="424.67" y1="425.40" x2="424.67" y2="428.20" stroke="#262626" stroke-width="1"/>
<text x="424.67" y="438.91" font-size="7.8" text-anchor="middle" font-weight="normal" font-style="normal" fill="#2e2e2e" stroke="#2e2e2e" stroke-width="0.28">5</text>
<line x1="445.50" y1="425.40" x2="445.50" y2="428.20" stroke="#262626" stroke-width="1"/>
<text x="445.50" y="438.91" font-size="7.8" text-anchor="middle" font-weight="normal" font-style="normal" fill="#2e2e2e" stroke="#2e2e2e" stroke-width="0.28">10</text>
<line x1="466.33" y1="425.40" x2="466.33" y2="428.20" stroke="#262626" stroke-width="1"/>
<text x="466.33" y="438.91" font-size="7.8" text-anchor="middle" font-weight="normal" font-style="normal" fill="#2e2e2e" stroke="#2e2e2e" stroke-width="0.28">20</text>
<line x1="493.87" y1="425.40" x2="493.87" y2="428.20" stroke="#262626" stroke-width="1"/>
<text x="493.87" y="438.91" font-size="7.8" text-anchor="middle" font-weight="normal" font-style="normal" fill="#2e2e2e" stroke="#2e2e2e" stroke-width="0.28">50</text>
<text x="270.70" y="281.15" font-size="8.2" text-anchor="start" font-weight="bold" font-style="normal" fill="#111" stroke="#111" stroke-width="0.2" textLength="10.40" lengthAdjust="spacingAndGlyphs">IPI</text>
<text x="271.00" y="341.25" font-size="8.2" text-anchor="start" font-weight="bold" font-style="normal" fill="#111" stroke="#111" stroke-width="0.2" textLength="47.60" lengthAdjust="spacingAndGlyphs">RadSig MTV</text>
<text x="300.40" y="292.59" font-size="7.6" text-anchor="middle" font-weight="normal" font-style="normal" fill="#2e2e2e" stroke="#2e2e2e" stroke-width="0.28" textLength="14.60" lengthAdjust="spacingAndGlyphs">Low</text>
<text x="300.40" y="302.64" font-size="7.6" text-anchor="middle" font-weight="normal" font-style="normal" fill="#2e2e2e" stroke="#2e2e2e" stroke-width="0.28" textLength="29.60" lengthAdjust="spacingAndGlyphs">(N = 70)</text>
<text x="346.00" y="292.79" font-size="7.6" text-anchor="middle" font-weight="normal" font-style="italic" fill="#2e2e2e" stroke="#2e2e2e" stroke-width="0.28" textLength="9.80" lengthAdjust="spacingAndGlyphs">ref</text>
<rect x="373.30" y="286.25" width="6" height="6" rx="2.4" fill="#f5c000"/>
<text x="300.40" y="321.14" font-size="7.6" text-anchor="middle" font-weight="normal" font-style="normal" fill="#2e2e2e" stroke="#2e2e2e" stroke-width="0.28" textLength="15.60" lengthAdjust="spacingAndGlyphs">High</text>
<text x="300.40" y="330.74" font-size="7.6" text-anchor="middle" font-weight="normal" font-style="normal" fill="#2e2e2e" stroke="#2e2e2e" stroke-width="0.28" textLength="29.60" lengthAdjust="spacingAndGlyphs">(N = 40)</text>
<text x="346.10" y="321.14" font-size="7.6" text-anchor="middle" font-weight="normal" font-style="normal" fill="#2e2e2e" stroke="#2e2e2e" stroke-width="0.28" textLength="11.20" lengthAdjust="spacingAndGlyphs">9.7</text>
<text x="346.10" y="330.74" font-size="7.6" text-anchor="middle" font-weight="normal" font-style="normal" fill="#2e2e2e" stroke="#2e2e2e" stroke-width="0.28" textLength="38.60" lengthAdjust="spacingAndGlyphs">(2.76-33.9)</text>
<rect x="441.48" y="313.40" width="6.2" height="6.4" rx="0.6" fill="#f5c000"/>
<line x1="406.81" y1="316.70" x2="482.19" y2="316.70" stroke="#222" stroke-width="0.95"/>
<line x1="406.81" y1="315.30" x2="406.81" y2="318.10" stroke="#222" stroke-width="0.9"/>
<line x1="482.19" y1="315.30" x2="482.19" y2="318.10" stroke="#222" stroke-width="0.9"/>
<text x="519.40" y="319.62" font-size="8.1" text-anchor="end" font-weight="normal" font-style="italic" fill="#2e2e2e" stroke="#2e2e2e" stroke-width="0.28" textLength="35.80" lengthAdjust="spacingAndGlyphs">&lt;0.001***</text>
<text x="300.40" y="351.44" font-size="7.6" text-anchor="middle" font-weight="normal" font-style="normal" fill="#2e2e2e" stroke="#2e2e2e" stroke-width="0.28" textLength="29.80" lengthAdjust="spacingAndGlyphs">Low-Any</text>
<text x="300.40" y="361.04" font-size="7.6" text-anchor="middle" font-weight="normal" font-style="normal" fill="#2e2e2e" stroke="#2e2e2e" stroke-width="0.28" textLength="29.60" lengthAdjust="spacingAndGlyphs">(N = 39)</text>
<text x="346.00" y="351.64" font-size="7.6" text-anchor="middle" font-weight="normal" font-style="italic" fill="#2e2e2e" stroke="#2e2e2e" stroke-width="0.28" textLength="9.80" lengthAdjust="spacingAndGlyphs">ref</text>
<rect x="373.30" y="345.10" width="6" height="6" rx="2.4" fill="#f5c000"/>
<text x="300.40" y="382.59" font-size="7.6" text-anchor="middle" font-weight="normal" font-style="normal" fill="#2e2e2e" stroke="#2e2e2e" stroke-width="0.28" textLength="33.60" lengthAdjust="spacingAndGlyphs">High-Low</text>
<text x="300.40" y="392.14" font-size="7.6" text-anchor="middle" font-weight="normal" font-style="normal" fill="#2e2e2e" stroke="#2e2e2e" stroke-width="0.28" textLength="29.60" lengthAdjust="spacingAndGlyphs">(N = 54)</text>
<text x="346.10" y="382.59" font-size="7.6" text-anchor="middle" font-weight="normal" font-style="normal" fill="#2e2e2e" stroke="#2e2e2e" stroke-width="0.28" textLength="11.20" lengthAdjust="spacingAndGlyphs">2.5</text>
<text x="346.10" y="392.14" font-size="7.6" text-anchor="middle" font-weight="normal" font-style="normal" fill="#2e2e2e" stroke="#2e2e2e" stroke-width="0.28" textLength="35.00" lengthAdjust="spacingAndGlyphs">(0.64-9.7)</text>
<rect x="400.74" y="374.70" width="6.2" height="6.4" rx="0.6" fill="#f5c000"/>
<line x1="362.89" y1="378.00" x2="444.58" y2="378.00" stroke="#222" stroke-width="0.95"/>
<line x1="362.89" y1="376.60" x2="362.89" y2="379.40" stroke="#222" stroke-width="0.9"/>
<line x1="444.58" y1="376.60" x2="444.58" y2="379.40" stroke="#222" stroke-width="0.9"/>
<text x="512.30" y="376.72" font-size="8.1" text-anchor="end" font-weight="normal" font-style="italic" fill="#2e2e2e" stroke="#2e2e2e" stroke-width="0.28" textLength="21.20" lengthAdjust="spacingAndGlyphs">0.189</text>
<text x="300.40" y="411.84" font-size="7.6" text-anchor="middle" font-weight="normal" font-style="normal" fill="#2e2e2e" stroke="#2e2e2e" stroke-width="0.28" textLength="35.80" lengthAdjust="spacingAndGlyphs">High-High</text>
<text x="300.40" y="421.34" font-size="7.6" text-anchor="middle" font-weight="normal" font-style="normal" fill="#2e2e2e" stroke="#2e2e2e" stroke-width="0.28" textLength="29.60" lengthAdjust="spacingAndGlyphs">(N = 17)</text>
<text x="346.10" y="411.84" font-size="7.6" text-anchor="middle" font-weight="normal" font-style="normal" fill="#2e2e2e" stroke="#2e2e2e" stroke-width="0.28" textLength="11.20" lengthAdjust="spacingAndGlyphs">8.7</text>
<text x="346.10" y="421.34" font-size="7.6" text-anchor="middle" font-weight="normal" font-style="normal" fill="#2e2e2e" stroke="#2e2e2e" stroke-width="0.28" textLength="40.40" lengthAdjust="spacingAndGlyphs">(2.28-33.2)</text>
<rect x="438.21" y="403.10" width="6.2" height="6.4" rx="0.6" fill="#f5c000"/>
<line x1="401.07" y1="406.40" x2="481.56" y2="406.40" stroke="#222" stroke-width="0.95"/>
<line x1="401.07" y1="405.00" x2="401.07" y2="407.80" stroke="#222" stroke-width="0.9"/>
<line x1="481.56" y1="405.00" x2="481.56" y2="407.80" stroke="#222" stroke-width="0.9"/>
<text x="514.60" y="409.12" font-size="8.1" text-anchor="end" font-weight="normal" font-style="italic" fill="#2e2e2e" stroke="#2e2e2e" stroke-width="0.28" textLength="26.10" lengthAdjust="spacingAndGlyphs">0.002**</text>
<line x1="376.30" y1="266.80" x2="376.30" y2="428.50" stroke="#333" stroke-width="1.0" stroke-dasharray="1.1,1"/>
<text x="270.10" y="439.12" font-size="8.1" text-anchor="start" font-weight="normal" font-style="italic" fill="#2e2e2e" stroke="#2e2e2e" stroke-width="0.28" textLength="44.60" lengthAdjust="spacingAndGlyphs"># Events: 18</text>
<text x="269.40" y="449.67" font-size="6.3" text-anchor="start" font-weight="normal" font-style="italic" fill="#2e2e2e" stroke="#2e2e2e" stroke-width="0.1" textLength="111.00" lengthAdjust="spacingAndGlyphs">Global P value (Log-Rank): 9.2248e-07</text>
<text x="269.40" y="457.57" font-size="6.3" text-anchor="start" font-weight="normal" font-style="italic" fill="#2e2e2e" stroke="#2e2e2e" stroke-width="0.1" textLength="107.20" lengthAdjust="spacingAndGlyphs">AIC:131.95; Concordance Index: 0.81</text>
</svg>
</body></html>
